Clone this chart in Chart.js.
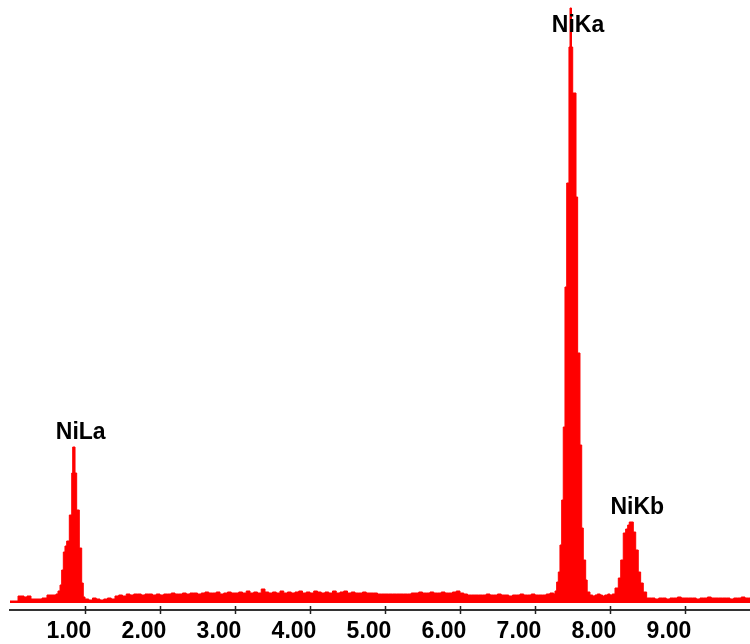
<!DOCTYPE html>
<html>
<head>
<meta charset="utf-8">
<title>Ni EDS spectrum</title>
<script src="https://cdn.jsdelivr.net/npm/chart.js@4.4.1/dist/chart.umd.min.js"></script>
<style>
  html, body { margin: 0; padding: 0; background: #fff; }
  #chart { display: block; }
</style>
</head>
<body>
<canvas id="chart" width="750" height="644"></canvas>
<script>
// spectrum: left edge of each channel block (keV) and its counts
var energy = [
  0.000, 0.107, 0.187, 0.227, 0.280, 0.427, 0.493, 0.613, 0.640, 0.667,
  0.689, 0.711, 0.733, 0.756, 0.791, 0.823, 0.836, 0.867, 0.889, 0.924,
  0.956, 0.977,
  1.00, 1.05, 1.10, 1.15, 1.20, 1.25, 1.30, 1.35, 1.40, 1.45, 1.50, 1.55, 1.60, 1.65, 1.70, 1.75, 1.80, 1.85, 1.90, 1.95,
  2.00, 2.05, 2.10, 2.15, 2.20, 2.25, 2.30, 2.35, 2.40, 2.45, 2.50, 2.55, 2.60, 2.65, 2.70, 2.75, 2.80, 2.85, 2.90, 2.95,
  3.00, 3.05, 3.10, 3.15, 3.20, 3.25, 3.30, 3.35, 3.40, 3.45, 3.50, 3.55, 3.60, 3.65, 3.70, 3.75, 3.80, 3.85, 3.90, 3.95,
  4.00, 4.05, 4.10, 4.15, 4.20, 4.25, 4.30, 4.35, 4.40, 4.45, 4.50, 4.55, 4.60, 4.65, 4.70, 4.75, 4.80, 4.85, 4.90, 4.95,
  5.00, 5.05, 5.10, 5.15, 5.20, 5.25, 5.30, 5.35, 5.40, 5.45, 5.50, 5.55, 5.60, 5.65, 5.70, 5.75, 5.80, 5.85, 5.90, 5.95,
  6.00, 6.05, 6.10, 6.15, 6.20, 6.25, 6.30, 6.35, 6.40, 6.45, 6.50, 6.55, 6.60, 6.65, 6.70, 6.75, 6.80, 6.85, 6.90, 6.95,
  7.00, 7.05, 7.10, 7.15, 7.20, 7.25,
  7.267, 7.289, 7.311, 7.333, 7.356, 7.377, 7.400, 7.423, 7.453, 7.467,
  7.487, 7.503, 7.547, 7.569, 7.600, 7.623, 7.644, 7.676, 7.696, 7.733,
  7.77, 7.80, 7.83, 7.87, 7.90, 7.93, 7.97, 8.00, 8.03,
  8.067, 8.111, 8.143, 8.177, 8.209, 8.236, 8.257, 8.311, 8.343, 8.377,
  8.409, 8.444, 8.489,
  8.55, 8.60, 8.65, 8.70, 8.75, 8.80, 8.85, 8.90, 8.95, 9.00, 9.05, 9.10, 9.15,
  9.20, 9.25, 9.30, 9.35, 9.40, 9.45, 9.50, 9.55, 9.60, 9.65, 9.70, 9.75, 9.80, 9.85, 9.90
];
var counts = [
  2, 7, 6, 7, 4, 5, 8, 9, 12, 18,
  33, 51, 57, 62, 88, 130, 156, 130, 93, 55,
  20, 6,
  4, 3, 5, 4, 3, 4, 5, 4, 7, 8, 7, 9, 8, 9, 9, 8, 9, 9, 8, 9,
  8, 9, 9, 10, 9, 9, 10, 9, 10, 10, 9, 10, 11, 10, 10, 11, 9, 10, 11, 10,
  10, 11, 10, 12, 10, 11, 10, 14, 11, 10, 11, 10, 12, 10, 11, 10, 11, 12, 10, 11,
  10, 12, 11, 10, 11, 10, 12, 10, 11, 12, 10, 11, 10, 10, 11, 10, 10, 10, 9, 9,
  9, 9, 9, 9, 9, 9, 9, 10, 10, 11, 10, 10, 11, 10, 10, 11, 10, 10, 11, 12,
  10, 9, 8, 8, 8, 8, 8, 9, 8, 8, 9, 8, 8, 7, 8, 8, 9, 8, 8, 9,
  8, 8, 8, 9, 10, 9,
  12, 21, 31, 58, 103, 176, 316, 420, 556, 595,
  556, 510, 406, 250, 158, 75, 43, 23, 11, 8,
  7, 8, 9, 8, 7, 8, 9, 8, 9,
  15, 25, 43, 70, 74, 78, 81, 71, 53, 31,
  20, 11, 5,
  5, 4, 5, 5, 4, 5, 5, 6, 5, 5, 5, 5, 4,
  5, 5, 6, 5, 5, 5, 5, 5, 4, 5, 5, 6, 5, 5, 5
];
var peakNames = ["NiLa", "NiKa", "NiKb"];
var peakEnergies = [0.851, 7.478, 8.265];
var tickValues = [1, 2, 3, 4, 5, 6, 7, 8, 9];

var points = energy.map(function (e, i) {
  return { x: e, y: counts[i] };
});

var fontFamily = "'Liberation Sans', Arial, sans-serif";

// peak names above each line + tick marks crossing the axis
var extras = {
  id: "extras",
  afterDraw: function (chart) {
    var ctx = chart.ctx;
    var xs = chart.scales.x;
    var ys = chart.scales.y;
    var area = chart.chartArea;
    ctx.save();

    ctx.strokeStyle = "#222";
    ctx.lineWidth = 1.5;
    tickValues.forEach(function (v) {
      var px = Math.round(xs.getPixelForValue(v)) + 0.5;
      ctx.beginPath();
      ctx.moveTo(px, area.bottom - 4);
      ctx.lineTo(px, area.bottom + 4);
      ctx.stroke();
    });

    ctx.font = "bold 23px " + fontFamily;
    ctx.fillStyle = "#000";
    ctx.textAlign = "center";
    ctx.textBaseline = "alphabetic";
    peakNames.forEach(function (name, k) {
      var best = -1;
      for (var i = 0; i < energy.length; i++) {
        if (Math.abs(energy[i] - peakEnergies[k]) < 0.1 && (best < 0 || counts[i] > counts[best])) {
          best = i;
        }
      }
      var px = xs.getPixelForValue(energy[best]) + 8;
      var py = Math.max(ys.getPixelForValue(counts[best]) - 8, area.top + 32);
      ctx.fillText(name, px, py);
    });
    ctx.restore();
  }
};

new Chart(document.getElementById("chart").getContext("2d"), {
  type: "line",
  data: {
    datasets: [{
      data: points,
      stepped: true,
      fill: "origin",
      backgroundColor: "#ff0000",
      borderColor: "#ff0000",
      borderWidth: 1,
      pointRadius: 0,
      tension: 0
    }]
  },
  options: {
    responsive: false,
    animation: false,
    devicePixelRatio: 1,
    layout: { padding: { left: 10, right: 0, top: 0, bottom: 0 } },
    plugins: {
      legend: { display: false },
      tooltip: { enabled: false }
    },
    scales: {
      x: {
        type: "linear",
        min: 0,
        max: 9.867,
        afterBuildTicks: function (scale) {
          scale.ticks = tickValues.map(function (v) { return { value: v }; });
        },
        afterFit: function (scale) { scale.height = 34; },
        grid: { display: false, drawTicks: false },
        border: { display: true, color: "#333", width: 2 },
        ticks: {
          autoSkip: false,
          maxRotation: 0,
          padding: 8,
          labelOffset: -16,
          color: "#000",
          font: { family: fontFamily, size: 23, weight: "bold" },
          callback: function (v) { return Number(v).toFixed(2); }
        }
      },
      y: {
        display: false,
        min: -7,
        max: 603
      }
    }
  },
  plugins: [extras]
});
</script>
</body>
</html>
